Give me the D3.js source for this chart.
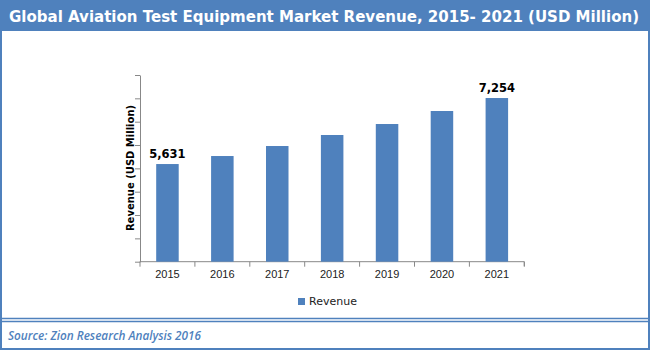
<!DOCTYPE html>
<html>
<head>
<meta charset="utf-8">
<script src="https://cdn.jsdelivr.net/npm/d3@7"></script>
<style>
  body { margin: 0; background: #fff; }
  svg { display: block; font-family: "DejaVu Sans", Verdana, sans-serif; }
</style>
</head>
<body>
<div id="chart"></div>
<script>
// chart data
const years = ["2015", "2016", "2017", "2018", "2019", "2020", "2021"];
const revenue = [5631, 5828, 6074, 6345, 6615, 6935, 7254];
const labelled = ["2015", "2021"];
const seriesName = "Revenue";
const yDomain = [3230, 7820];

const width = 650, height = 350;
const blue = "#4f81bd";
const plot = { left: 140, right: 524.3, top: 75, bottom: 261.7 };

const svg = d3.select("#chart").append("svg")
    .attr("width", width)
    .attr("height", height);

// frame + title band
svg.append("rect")
    .attr("x", 1).attr("y", 1)
    .attr("width", width - 2).attr("height", height - 2)
    .attr("fill", "#fff")
    .attr("stroke", blue).attr("stroke-width", 2);
svg.append("rect")
    .attr("x", 0).attr("y", 0)
    .attr("width", width).attr("height", 31)
    .attr("fill", blue);
svg.append("line")
    .attr("x1", 0).attr("x2", width)
    .attr("y1", 318.5).attr("y2", 318.5)
    .attr("stroke", blue).attr("stroke-width", 1.5);
svg.append("line")
    .attr("x1", 0).attr("x2", width)
    .attr("y1", 321.5).attr("y2", 321.5)
    .attr("stroke", blue).attr("stroke-width", 1.5);

svg.append("text")
    .attr("x", 9).attr("y", 22)
    .attr("fill", "#fff")
    .attr("font-size", 15)
    .attr("font-weight", "bold")
    .attr("textLength", 630)
    .attr("lengthAdjust", "spacingAndGlyphs")
    .text("Global Aviation Test Equipment Market Revenue, 2015- 2021 (USD Million)");

svg.append("text")
    .attr("x", 8).attr("y", 340)
    .attr("fill", blue)
    .attr("font-size", 12)
    .attr("font-style", "italic")
    .attr("font-weight", 600)
    .attr("font-family", "'Open Sans', sans-serif")
    .attr("textLength", 193)
    .attr("lengthAdjust", "spacingAndGlyphs")
    .text("Source: Zion Research Analysis 2016");

// scales
const x = d3.scaleBand()
    .domain(years)
    .range([plot.left, plot.right])
    .paddingInner(0.59)
    .paddingOuter(0.295);

const y = d3.scaleLinear()
    .domain(yDomain)
    .range([plot.bottom, plot.top]);

const yTicks = d3.range(9).map(i => yDomain[0] + i * (yDomain[1] - yDomain[0]) / 8);

// axes
const yAxis = svg.append("g")
    .attr("transform", `translate(${plot.left},0)`)
    .call(d3.axisLeft(y).tickValues(yTicks).tickSize(5).tickFormat("").tickSizeOuter(0));
yAxis.selectAll("line, path").attr("stroke", "#888");

const xAxis = svg.append("g")
    .attr("transform", `translate(0,${plot.bottom})`)
    .call(d3.axisBottom(x).tickSize(0).tickPadding(9));
xAxis.select(".domain").attr("stroke", "#888").attr("d", `M${plot.left},0.5V0H${plot.right}V4.5`);
xAxis.selectAll("text")
    .attr("font-size", 11)
    .attr("fill", "#222");

// band separators on the x axis
const step = x.step();
svg.append("g").selectAll("line")
    .data(d3.range(years.length + 1))
    .join("line")
    .attr("x1", i => plot.left + i * step)
    .attr("x2", i => plot.left + i * step)
    .attr("y1", plot.bottom)
    .attr("y2", plot.bottom + 5)
    .attr("stroke", "#888");

// bars
svg.append("g").selectAll("rect")
    .data(years)
    .join("rect")
    .attr("x", d => x(d))
    .attr("width", x.bandwidth())
    .attr("y", (d, i) => y(revenue[i]))
    .attr("height", (d, i) => plot.bottom - y(revenue[i]))
    .attr("fill", blue);

// value labels
svg.append("g").selectAll("text")
    .data(years.filter(d => labelled.includes(d)))
    .join("text")
    .attr("x", d => x(d) + x.bandwidth() / 2)
    .attr("y", d => y(revenue[years.indexOf(d)]) - 6)
    .attr("text-anchor", "middle")
    .attr("font-size", 11.5)
    .attr("font-weight", "bold")
    .text(d => d3.format(",")(revenue[years.indexOf(d)]));

// y title
svg.append("text")
    .attr("transform", `translate(134,168) rotate(-90)`)
    .attr("text-anchor", "middle")
    .attr("font-size", 10)
    .attr("font-weight", "bold")
    .text("Revenue (USD Million)");

// legend
const legend = svg.append("g").attr("transform", "translate(298,298)");
legend.append("rect")
    .attr("width", 7).attr("height", 7)
    .attr("fill", blue);
legend.append("text")
    .attr("x", 11).attr("y", 7)
    .attr("font-size", 11)
    .attr("fill", "#222")
    .text(seriesName);
</script>
</body>
</html>
